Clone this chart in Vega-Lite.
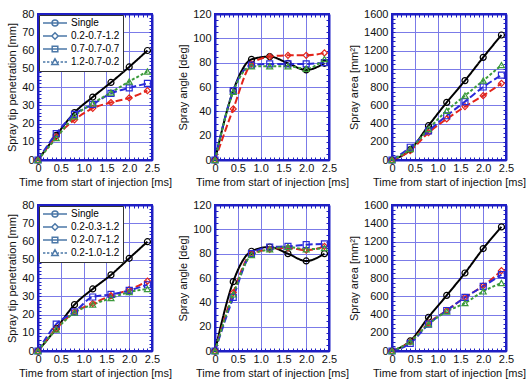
{
"$schema":"https://vega.github.io/schema/vega-lite/v6.json",
"padding":{"left":5,"top":7,"right":5,"bottom":5},
"background":"#ffffff",
"data":{"values":[
{"p":1,"s":"Single","t":0,"v":0},{"p":1,"s":"Single","t":0.4,"v":13.5},{"p":1,"s":"Single","t":0.8,"v":26},{"p":1,"s":"Single","t":1.2,"v":34.5},{"p":1,"s":"Single","t":1.6,"v":42.5},{"p":1,"s":"Single","t":2.0,"v":51},{"p":1,"s":"Single","t":2.4,"v":60},
{"p":1,"s":"0.2-0.7-1.2","t":0,"v":0},{"p":1,"s":"0.2-0.7-1.2","t":0.4,"v":12.8},{"p":1,"s":"0.2-0.7-1.2","t":0.8,"v":22},{"p":1,"s":"0.2-0.7-1.2","t":1.2,"v":28.3},{"p":1,"s":"0.2-0.7-1.2","t":1.6,"v":31.5},{"p":1,"s":"0.2-0.7-1.2","t":2.0,"v":34},{"p":1,"s":"0.2-0.7-1.2","t":2.4,"v":38},
{"p":1,"s":"0.7-0.7-0.7","t":0,"v":0},{"p":1,"s":"0.7-0.7-0.7","t":0.4,"v":14.5},{"p":1,"s":"0.7-0.7-0.7","t":0.8,"v":25},{"p":1,"s":"0.7-0.7-0.7","t":1.2,"v":30.5},{"p":1,"s":"0.7-0.7-0.7","t":1.6,"v":36.5},{"p":1,"s":"0.7-0.7-0.7","t":2.0,"v":39.5},{"p":1,"s":"0.7-0.7-0.7","t":2.4,"v":42},
{"p":1,"s":"1.2-0.7-0.2","t":0,"v":0},{"p":1,"s":"1.2-0.7-0.2","t":0.4,"v":12},{"p":1,"s":"1.2-0.7-0.2","t":0.8,"v":24},{"p":1,"s":"1.2-0.7-0.2","t":1.2,"v":31},{"p":1,"s":"1.2-0.7-0.2","t":1.6,"v":37},{"p":1,"s":"1.2-0.7-0.2","t":2.0,"v":43},{"p":1,"s":"1.2-0.7-0.2","t":2.4,"v":48.5},
{"p":2,"s":"Single","t":0,"v":0},{"p":2,"s":"Single","t":0.4,"v":57},{"p":2,"s":"Single","t":0.8,"v":82.7},{"p":2,"s":"Single","t":1.2,"v":85},{"p":2,"s":"Single","t":1.6,"v":79.5},{"p":2,"s":"Single","t":2.0,"v":74},{"p":2,"s":"Single","t":2.4,"v":79.5},
{"p":2,"s":"0.2-0.7-1.2","t":0,"v":0},{"p":2,"s":"0.2-0.7-1.2","t":0.4,"v":42},{"p":2,"s":"0.2-0.7-1.2","t":0.8,"v":79},{"p":2,"s":"0.2-0.7-1.2","t":1.2,"v":85},{"p":2,"s":"0.2-0.7-1.2","t":1.6,"v":86},{"p":2,"s":"0.2-0.7-1.2","t":2.0,"v":86},{"p":2,"s":"0.2-0.7-1.2","t":2.4,"v":88},
{"p":2,"s":"0.7-0.7-0.7","t":0,"v":0},{"p":2,"s":"0.7-0.7-0.7","t":0.4,"v":57},{"p":2,"s":"0.7-0.7-0.7","t":0.8,"v":78},{"p":2,"s":"0.7-0.7-0.7","t":1.2,"v":79},{"p":2,"s":"0.7-0.7-0.7","t":1.6,"v":79},{"p":2,"s":"0.7-0.7-0.7","t":2.0,"v":79},{"p":2,"s":"0.7-0.7-0.7","t":2.4,"v":80},
{"p":2,"s":"1.2-0.7-0.2","t":0,"v":0},{"p":2,"s":"1.2-0.7-0.2","t":0.4,"v":56},{"p":2,"s":"1.2-0.7-0.2","t":0.8,"v":77},{"p":2,"s":"1.2-0.7-0.2","t":1.2,"v":77},{"p":2,"s":"1.2-0.7-0.2","t":1.6,"v":77},{"p":2,"s":"1.2-0.7-0.2","t":2.0,"v":75},{"p":2,"s":"1.2-0.7-0.2","t":2.4,"v":83},
{"p":3,"s":"Single","t":0,"v":0},{"p":3,"s":"Single","t":0.4,"v":113},{"p":3,"s":"Single","t":0.8,"v":376},{"p":3,"s":"Single","t":1.2,"v":632},{"p":3,"s":"Single","t":1.6,"v":870},{"p":3,"s":"Single","t":2.0,"v":1125},{"p":3,"s":"Single","t":2.4,"v":1370},
{"p":3,"s":"0.2-0.7-1.2","t":0,"v":0},{"p":3,"s":"0.2-0.7-1.2","t":0.4,"v":102},{"p":3,"s":"0.2-0.7-1.2","t":0.8,"v":300},{"p":3,"s":"0.2-0.7-1.2","t":1.2,"v":450},{"p":3,"s":"0.2-0.7-1.2","t":1.6,"v":585},{"p":3,"s":"0.2-0.7-1.2","t":2.0,"v":705},{"p":3,"s":"0.2-0.7-1.2","t":2.4,"v":840},
{"p":3,"s":"0.7-0.7-0.7","t":0,"v":0},{"p":3,"s":"0.7-0.7-0.7","t":0.4,"v":140},{"p":3,"s":"0.7-0.7-0.7","t":0.8,"v":320},{"p":3,"s":"0.7-0.7-0.7","t":1.2,"v":485},{"p":3,"s":"0.7-0.7-0.7","t":1.6,"v":640},{"p":3,"s":"0.7-0.7-0.7","t":2.0,"v":800},{"p":3,"s":"0.7-0.7-0.7","t":2.4,"v":930},
{"p":3,"s":"1.2-0.7-0.2","t":0,"v":0},{"p":3,"s":"1.2-0.7-0.2","t":0.4,"v":120},{"p":3,"s":"1.2-0.7-0.2","t":0.8,"v":340},{"p":3,"s":"1.2-0.7-0.2","t":1.2,"v":540},{"p":3,"s":"1.2-0.7-0.2","t":1.6,"v":705},{"p":3,"s":"1.2-0.7-0.2","t":2.0,"v":870},{"p":3,"s":"1.2-0.7-0.2","t":2.4,"v":1040},
{"p":4,"s":"Single","t":0,"v":0},{"p":4,"s":"Single","t":0.4,"v":12.3},{"p":4,"s":"Single","t":0.8,"v":25.4},{"p":4,"s":"Single","t":1.2,"v":34},{"p":4,"s":"Single","t":1.6,"v":41.7},{"p":4,"s":"Single","t":2.0,"v":50.8},{"p":4,"s":"Single","t":2.4,"v":59.9},
{"p":4,"s":"0.2-0.3-1.2","t":0,"v":0},{"p":4,"s":"0.2-0.3-1.2","t":0.4,"v":12.2},{"p":4,"s":"0.2-0.3-1.2","t":0.8,"v":21.4},{"p":4,"s":"0.2-0.3-1.2","t":1.2,"v":26},{"p":4,"s":"0.2-0.3-1.2","t":1.6,"v":30.3},{"p":4,"s":"0.2-0.3-1.2","t":2.0,"v":33.6},{"p":4,"s":"0.2-0.3-1.2","t":2.4,"v":38.3},
{"p":4,"s":"0.2-0.7-1.2","t":0,"v":0},{"p":4,"s":"0.2-0.7-1.2","t":0.4,"v":14.7},{"p":4,"s":"0.2-0.7-1.2","t":0.8,"v":21.4},{"p":4,"s":"0.2-0.7-1.2","t":1.2,"v":29.6},{"p":4,"s":"0.2-0.7-1.2","t":1.6,"v":31},{"p":4,"s":"0.2-0.7-1.2","t":2.0,"v":33.2},{"p":4,"s":"0.2-0.7-1.2","t":2.4,"v":36.3},
{"p":4,"s":"0.2-1.0-1.2","t":0,"v":0},{"p":4,"s":"0.2-1.0-1.2","t":0.4,"v":11.8},{"p":4,"s":"0.2-1.0-1.2","t":0.8,"v":21},{"p":4,"s":"0.2-1.0-1.2","t":1.2,"v":25.4},{"p":4,"s":"0.2-1.0-1.2","t":1.6,"v":29},{"p":4,"s":"0.2-1.0-1.2","t":2.0,"v":32.3},{"p":4,"s":"0.2-1.0-1.2","t":2.4,"v":34},
{"p":5,"s":"Single","t":0,"v":0},{"p":5,"s":"Single","t":0.4,"v":57},{"p":5,"s":"Single","t":0.8,"v":82},{"p":5,"s":"Single","t":1.2,"v":85.5},{"p":5,"s":"Single","t":1.6,"v":80},{"p":5,"s":"Single","t":2.0,"v":74},{"p":5,"s":"Single","t":2.4,"v":80},
{"p":5,"s":"0.2-0.3-1.2","t":0,"v":0},{"p":5,"s":"0.2-0.3-1.2","t":0.4,"v":48},{"p":5,"s":"0.2-0.3-1.2","t":0.8,"v":80},{"p":5,"s":"0.2-0.3-1.2","t":1.2,"v":83.6},{"p":5,"s":"0.2-0.3-1.2","t":1.6,"v":84.7},{"p":5,"s":"0.2-0.3-1.2","t":2.0,"v":82.8},{"p":5,"s":"0.2-0.3-1.2","t":2.4,"v":86},
{"p":5,"s":"0.2-0.7-1.2","t":0,"v":0},{"p":5,"s":"0.2-0.7-1.2","t":0.4,"v":44},{"p":5,"s":"0.2-0.7-1.2","t":0.8,"v":80},{"p":5,"s":"0.2-0.7-1.2","t":1.2,"v":85.5},{"p":5,"s":"0.2-0.7-1.2","t":1.6,"v":86},{"p":5,"s":"0.2-0.7-1.2","t":2.0,"v":87.4},{"p":5,"s":"0.2-0.7-1.2","t":2.4,"v":88},
{"p":5,"s":"0.2-1.0-1.2","t":0,"v":0},{"p":5,"s":"0.2-1.0-1.2","t":0.4,"v":46.5},{"p":5,"s":"0.2-1.0-1.2","t":0.8,"v":78.8},{"p":5,"s":"0.2-1.0-1.2","t":1.2,"v":83.6},{"p":5,"s":"0.2-1.0-1.2","t":1.6,"v":85.5},{"p":5,"s":"0.2-1.0-1.2","t":2.0,"v":83.6},{"p":5,"s":"0.2-1.0-1.2","t":2.4,"v":84.7},
{"p":6,"s":"Single","t":0,"v":0},{"p":6,"s":"Single","t":0.4,"v":110},{"p":6,"s":"Single","t":0.8,"v":370},{"p":6,"s":"Single","t":1.2,"v":610},{"p":6,"s":"Single","t":1.6,"v":855},{"p":6,"s":"Single","t":2.0,"v":1123},{"p":6,"s":"Single","t":2.4,"v":1360},
{"p":6,"s":"0.2-0.3-1.2","t":0,"v":0},{"p":6,"s":"0.2-0.3-1.2","t":0.4,"v":103},{"p":6,"s":"0.2-0.3-1.2","t":0.8,"v":305},{"p":6,"s":"0.2-0.3-1.2","t":1.2,"v":444},{"p":6,"s":"0.2-0.3-1.2","t":1.6,"v":587},{"p":6,"s":"0.2-0.3-1.2","t":2.0,"v":715},{"p":6,"s":"0.2-0.3-1.2","t":2.4,"v":880},
{"p":6,"s":"0.2-0.7-1.2","t":0,"v":0},{"p":6,"s":"0.2-0.7-1.2","t":0.4,"v":84},{"p":6,"s":"0.2-0.7-1.2","t":0.8,"v":294},{"p":6,"s":"0.2-0.7-1.2","t":1.2,"v":444},{"p":6,"s":"0.2-0.7-1.2","t":1.6,"v":587},{"p":6,"s":"0.2-0.7-1.2","t":2.0,"v":708},{"p":6,"s":"0.2-0.7-1.2","t":2.4,"v":837},
{"p":6,"s":"0.2-1.0-1.2","t":0,"v":0},{"p":6,"s":"0.2-1.0-1.2","t":0.4,"v":103},{"p":6,"s":"0.2-1.0-1.2","t":0.8,"v":294},{"p":6,"s":"0.2-1.0-1.2","t":1.2,"v":433},{"p":6,"s":"0.2-1.0-1.2","t":1.6,"v":525},{"p":6,"s":"0.2-1.0-1.2","t":2.0,"v":653},{"p":6,"s":"0.2-1.0-1.2","t":2.4,"v":745}
]},
"columns":3,
"bounds":"flush",
"spacing":{"row":45,"column":63},
"resolve":{"scale":{"x":"independent","y":"independent","color":"independent","shape":"independent","strokeDash":"independent"},"axis":{"x":"independent","y":"independent"},"legend":{"shape":"independent","color":"independent","strokeDash":"independent"}},
"concat":[
{"width":114,"height":146,"transform":[{"filter":"datum.p==1"}],"layer":[
 {"mark":{"type":"line","interpolate":"monotone","strokeWidth":2},"encoding":{
  "x":{"field":"t","type":"quantitative","scale":{"domain":[0,2.5],"nice":false},"axis":{"orient":"bottom","values":[0,0.1,0.2,0.3,0.4,0.5,0.6,0.7,0.8,0.9,1,1.1,1.2,1.3,1.4,1.5,1.6,1.7,1.8,1.9,2,2.1,2.2,2.3,2.4,2.5],"grid":true,"gridOpacity":{"condition":{"test":"abs(datum.value*2-round(datum.value*2))<0.001","value":1},"value":0},"labelExpr":"abs(datum.value*2-round(datum.value*2))<0.001 ? (datum.value==0 ? '0' : format(datum.value,'.1f')) : ''","title":"Time from start of injection [ms]"}},
  "y":{"field":"v","type":"quantitative","scale":{"domain":[0,80],"nice":false},"axis":{"orient":"left","values":[0,2,4,6,8,10,12,14,16,18,20,22,24,26,28,30,32,34,36,38,40,42,44,46,48,50,52,54,56,58,60,62,64,66,68,70,72,74,76,78,80],"grid":true,"gridOpacity":{"condition":{"test":"datum.value%10==0","value":1},"value":0},"labelExpr":"datum.value%10==0 ? format(datum.value,'d') : ''","title":"Spray tip penetration [mm]"}},
  "color":{"field":"s","type":"nominal","scale":{"domain":["0.2-0.7-1.2","0.7-0.7-0.7","1.2-0.7-0.2","Single"],"range":["#e3241b","#2a2ad8","#3c9a3c","#000000"]},"legend":null},
  "strokeDash":{"field":"s","type":"nominal","scale":{"domain":["0.2-0.7-1.2","0.7-0.7-0.7","1.2-0.7-0.2","Single"],"range":[[7,3],[7,3],[3,2],[1,0]]},"legend":null}}},
 {"transform":[{"filter":"false"}],"mark":{"type":"point","filled":false,"size":64,"strokeWidth":1.5,"opacity":1},"encoding":{
  "x":{"field":"t","type":"quantitative","axis":null},"y":{"field":"v","type":"quantitative","axis":null},
  "shape":{"field":"s","type":"nominal","scale":{"domain":["Single","0.2-0.7-1.2","0.7-0.7-0.7","1.2-0.7-0.2"],"range":["M-3,0H3M-0.75,0A0.75,0.75,0,1,1,0.75,0A0.75,0.75,0,1,1,-0.75,0","M-3,0H-0.8M0.8,0H3M0,-0.8L0.8,0L0,0.8L-0.8,0Z","M-3,0H-0.7M0.7,0H3M-0.7,-0.7H0.7V0.7H-0.7ZM-0.7,0H0.7","M-3,0H-2.4M-2,0H-1.4M-1,0H-0.7M0.7,0H1M1.4,0H2M2.4,0H3M0,-0.8L0.8,0.6H-0.8Z"]},
   "legend":{"orient":"top-left","offset":1,"title":null,"padding":3,"rowPadding":0,"strokeColor":"#333333","fillColor":"#ffffff","symbolSize":64,"symbolStrokeWidth":1.5,"symbolOffset":8,"labelOffset":11,"labelFontSize":10,"labelFont":"Liberation Sans","encode":{"symbols":{"opacity":{"value":1},"stroke":{"value":{"expr":"['#000000','#e3241b','#2a2ad8','#3c9a3c'][indexof(['Single','0.2-0.7-1.2','0.7-0.7-0.7','1.2-0.7-0.2'],datum.value)]"}},"fill":{"value":"transparent"}},"labels":{"fill":{"value":{"expr":"['#000000','#e3241b','#2a2ad8','#3c9a3c'][indexof(['Single','0.2-0.7-1.2','0.7-0.7-0.7','1.2-0.7-0.2'],datum.value)]"}}}}}}}},
 {"transform":[{"filter":{"field":"s","equal":"Single"}}],"mark":{"type":"point","shape":"circle","filled":false,"size":36,"strokeWidth":1.2,"opacity":1},"encoding":{"x":{"field":"t","type":"quantitative","axis":null},"y":{"field":"v","type":"quantitative","axis":null},"color":{"field":"s","type":"nominal","legend":null}}},
 {"transform":[{"filter":{"field":"s","equal":"0.2-0.7-1.2"}}],"mark":{"type":"point","shape":"diamond","filled":false,"size":36,"strokeWidth":1.2,"opacity":1},"encoding":{"x":{"field":"t","type":"quantitative","axis":null},"y":{"field":"v","type":"quantitative","axis":null},"color":{"field":"s","type":"nominal","legend":null}}},
 {"transform":[{"filter":{"field":"s","equal":"0.7-0.7-0.7"}}],"mark":{"type":"point","shape":"square","filled":false,"size":36,"strokeWidth":1.2,"opacity":1},"encoding":{"x":{"field":"t","type":"quantitative","axis":null},"y":{"field":"v","type":"quantitative","axis":null},"color":{"field":"s","type":"nominal","legend":null}}},
 {"transform":[{"filter":{"field":"s","equal":"1.2-0.7-0.2"}}],"mark":{"type":"point","shape":"triangle-up","filled":false,"size":36,"strokeWidth":1.2,"opacity":1},"encoding":{
  "x":{"field":"t","type":"quantitative","axis":{"orient":"top","values":[0,0.1,0.2,0.3,0.4,0.5,0.6,0.7,0.8,0.9,1,1.1,1.2,1.3,1.4,1.5,1.6,1.7,1.8,1.9,2,2.1,2.2,2.3,2.4,2.5],"labels":false,"grid":false,"title":null}},
  "y":{"field":"v","type":"quantitative","axis":{"orient":"right","values":[0,2,4,6,8,10,12,14,16,18,20,22,24,26,28,30,32,34,36,38,40,42,44,46,48,50,52,54,56,58,60,62,64,66,68,70,72,74,76,78,80],"labels":false,"grid":false,"title":null}},
  "color":{"field":"s","type":"nominal","legend":null}}}
]},
{"width":114,"height":146,"transform":[{"filter":"datum.p==2"}],"layer":[
 {"mark":{"type":"line","interpolate":"monotone","strokeWidth":2},"encoding":{
  "x":{"field":"t","type":"quantitative","scale":{"domain":[0,2.5],"nice":false},"axis":{"orient":"bottom","values":[0,0.1,0.2,0.3,0.4,0.5,0.6,0.7,0.8,0.9,1,1.1,1.2,1.3,1.4,1.5,1.6,1.7,1.8,1.9,2,2.1,2.2,2.3,2.4,2.5],"grid":true,"gridOpacity":{"condition":{"test":"abs(datum.value*2-round(datum.value*2))<0.001","value":1},"value":0},"labelExpr":"abs(datum.value*2-round(datum.value*2))<0.001 ? (datum.value==0 ? '0' : format(datum.value,'.1f')) : ''","title":"Time from start of injection [ms]"}},
  "y":{"field":"v","type":"quantitative","scale":{"domain":[0,120],"nice":false},"axis":{"orient":"left","values":[0,5,10,15,20,25,30,35,40,45,50,55,60,65,70,75,80,85,90,95,100,105,110,115,120],"grid":true,"gridOpacity":{"condition":{"test":"datum.value%20==0","value":1},"value":0},"labelExpr":"datum.value%20==0 ? format(datum.value,'d') : ''","title":"Spray angle [deg]"}},
  "color":{"field":"s","type":"nominal","scale":{"domain":["0.2-0.7-1.2","0.7-0.7-0.7","1.2-0.7-0.2","Single"],"range":["#e3241b","#2a2ad8","#3c9a3c","#000000"]},"legend":null},
  "strokeDash":{"field":"s","type":"nominal","scale":{"domain":["0.2-0.7-1.2","0.7-0.7-0.7","1.2-0.7-0.2","Single"],"range":[[7,3],[7,3],[3,2],[1,0]]},"legend":null}}},
 {"transform":[{"filter":{"field":"s","equal":"Single"}}],"mark":{"type":"point","shape":"circle","filled":false,"size":36,"strokeWidth":1.2,"opacity":1},"encoding":{"x":{"field":"t","type":"quantitative","axis":null},"y":{"field":"v","type":"quantitative","axis":null},"color":{"field":"s","type":"nominal","legend":null}}},
 {"transform":[{"filter":{"field":"s","equal":"0.2-0.7-1.2"}}],"mark":{"type":"point","shape":"diamond","filled":false,"size":36,"strokeWidth":1.2,"opacity":1},"encoding":{"x":{"field":"t","type":"quantitative","axis":null},"y":{"field":"v","type":"quantitative","axis":null},"color":{"field":"s","type":"nominal","legend":null}}},
 {"transform":[{"filter":{"field":"s","equal":"0.7-0.7-0.7"}}],"mark":{"type":"point","shape":"square","filled":false,"size":36,"strokeWidth":1.2,"opacity":1},"encoding":{"x":{"field":"t","type":"quantitative","axis":null},"y":{"field":"v","type":"quantitative","axis":null},"color":{"field":"s","type":"nominal","legend":null}}},
 {"transform":[{"filter":{"field":"s","equal":"1.2-0.7-0.2"}}],"mark":{"type":"point","shape":"triangle-up","filled":false,"size":36,"strokeWidth":1.2,"opacity":1},"encoding":{
  "x":{"field":"t","type":"quantitative","axis":{"orient":"top","values":[0,0.1,0.2,0.3,0.4,0.5,0.6,0.7,0.8,0.9,1,1.1,1.2,1.3,1.4,1.5,1.6,1.7,1.8,1.9,2,2.1,2.2,2.3,2.4,2.5],"labels":false,"grid":false,"title":null}},
  "y":{"field":"v","type":"quantitative","axis":{"orient":"right","values":[0,5,10,15,20,25,30,35,40,45,50,55,60,65,70,75,80,85,90,95,100,105,110,115,120],"labels":false,"grid":false,"title":null}},
  "color":{"field":"s","type":"nominal","legend":null}}}
]},
{"width":114,"height":146,"transform":[{"filter":"datum.p==3"}],"layer":[
 {"mark":{"type":"line","interpolate":"monotone","strokeWidth":2},"encoding":{
  "x":{"field":"t","type":"quantitative","scale":{"domain":[0,2.5],"nice":false},"axis":{"orient":"bottom","values":[0,0.1,0.2,0.3,0.4,0.5,0.6,0.7,0.8,0.9,1,1.1,1.2,1.3,1.4,1.5,1.6,1.7,1.8,1.9,2,2.1,2.2,2.3,2.4,2.5],"grid":true,"gridOpacity":{"condition":{"test":"abs(datum.value*2-round(datum.value*2))<0.001","value":1},"value":0},"labelExpr":"abs(datum.value*2-round(datum.value*2))<0.001 ? (datum.value==0 ? '0' : format(datum.value,'.1f')) : ''","title":"Time from start of injection [ms]"}},
  "y":{"field":"v","type":"quantitative","scale":{"domain":[0,1600],"nice":false},"axis":{"orient":"left","values":[0,50,100,150,200,250,300,350,400,450,500,550,600,650,700,750,800,850,900,950,1000,1050,1100,1150,1200,1250,1300,1350,1400,1450,1500,1550,1600],"grid":true,"gridOpacity":{"condition":{"test":"datum.value%200==0","value":1},"value":0},"labelExpr":"datum.value%200==0 ? format(datum.value,'d') : ''","title":"Spray area [mm²]"}},
  "color":{"field":"s","type":"nominal","scale":{"domain":["0.2-0.7-1.2","0.7-0.7-0.7","1.2-0.7-0.2","Single"],"range":["#e3241b","#2a2ad8","#3c9a3c","#000000"]},"legend":null},
  "strokeDash":{"field":"s","type":"nominal","scale":{"domain":["0.2-0.7-1.2","0.7-0.7-0.7","1.2-0.7-0.2","Single"],"range":[[7,3],[7,3],[3,2],[1,0]]},"legend":null}}},
 {"transform":[{"filter":{"field":"s","equal":"Single"}}],"mark":{"type":"point","shape":"circle","filled":false,"size":36,"strokeWidth":1.2,"opacity":1},"encoding":{"x":{"field":"t","type":"quantitative","axis":null},"y":{"field":"v","type":"quantitative","axis":null},"color":{"field":"s","type":"nominal","legend":null}}},
 {"transform":[{"filter":{"field":"s","equal":"0.2-0.7-1.2"}}],"mark":{"type":"point","shape":"diamond","filled":false,"size":36,"strokeWidth":1.2,"opacity":1},"encoding":{"x":{"field":"t","type":"quantitative","axis":null},"y":{"field":"v","type":"quantitative","axis":null},"color":{"field":"s","type":"nominal","legend":null}}},
 {"transform":[{"filter":{"field":"s","equal":"0.7-0.7-0.7"}}],"mark":{"type":"point","shape":"square","filled":false,"size":36,"strokeWidth":1.2,"opacity":1},"encoding":{"x":{"field":"t","type":"quantitative","axis":null},"y":{"field":"v","type":"quantitative","axis":null},"color":{"field":"s","type":"nominal","legend":null}}},
 {"transform":[{"filter":{"field":"s","equal":"1.2-0.7-0.2"}}],"mark":{"type":"point","shape":"triangle-up","filled":false,"size":36,"strokeWidth":1.2,"opacity":1},"encoding":{
  "x":{"field":"t","type":"quantitative","axis":{"orient":"top","values":[0,0.1,0.2,0.3,0.4,0.5,0.6,0.7,0.8,0.9,1,1.1,1.2,1.3,1.4,1.5,1.6,1.7,1.8,1.9,2,2.1,2.2,2.3,2.4,2.5],"labels":false,"grid":false,"title":null}},
  "y":{"field":"v","type":"quantitative","axis":{"orient":"right","values":[0,50,100,150,200,250,300,350,400,450,500,550,600,650,700,750,800,850,900,950,1000,1050,1100,1150,1200,1250,1300,1350,1400,1450,1500,1550,1600],"labels":false,"grid":false,"title":null}},
  "color":{"field":"s","type":"nominal","legend":null}}}
]},
{"width":114,"height":146,"transform":[{"filter":"datum.p==4"}],"layer":[
 {"mark":{"type":"line","interpolate":"monotone","strokeWidth":2},"encoding":{
  "x":{"field":"t","type":"quantitative","scale":{"domain":[0,2.5],"nice":false},"axis":{"orient":"bottom","values":[0,0.1,0.2,0.3,0.4,0.5,0.6,0.7,0.8,0.9,1,1.1,1.2,1.3,1.4,1.5,1.6,1.7,1.8,1.9,2,2.1,2.2,2.3,2.4,2.5],"grid":true,"gridOpacity":{"condition":{"test":"abs(datum.value*2-round(datum.value*2))<0.001","value":1},"value":0},"labelExpr":"abs(datum.value*2-round(datum.value*2))<0.001 ? (datum.value==0 ? '0' : format(datum.value,'.1f')) : ''","title":"Time from start of injection [ms]"}},
  "y":{"field":"v","type":"quantitative","scale":{"domain":[0,80],"nice":false},"axis":{"orient":"left","values":[0,2,4,6,8,10,12,14,16,18,20,22,24,26,28,30,32,34,36,38,40,42,44,46,48,50,52,54,56,58,60,62,64,66,68,70,72,74,76,78,80],"grid":true,"gridOpacity":{"condition":{"test":"datum.value%10==0","value":1},"value":0},"labelExpr":"datum.value%10==0 ? format(datum.value,'d') : ''","title":"Spray tip penetration [mm]"}},
  "color":{"field":"s","type":"nominal","scale":{"domain":["0.2-0.3-1.2","0.2-0.7-1.2","0.2-1.0-1.2","Single"],"range":["#e3241b","#2a2ad8","#3c9a3c","#000000"]},"legend":null},
  "strokeDash":{"field":"s","type":"nominal","scale":{"domain":["0.2-0.3-1.2","0.2-0.7-1.2","0.2-1.0-1.2","Single"],"range":[[7,3],[7,3],[3,2],[1,0]]},"legend":null}}},
 {"transform":[{"filter":"false"}],"mark":{"type":"point","filled":false,"size":64,"strokeWidth":1.5,"opacity":1},"encoding":{
  "x":{"field":"t","type":"quantitative","axis":null},"y":{"field":"v","type":"quantitative","axis":null},
  "shape":{"field":"s","type":"nominal","scale":{"domain":["Single","0.2-0.3-1.2","0.2-0.7-1.2","0.2-1.0-1.2"],"range":["M-3,0H3M-0.75,0A0.75,0.75,0,1,1,0.75,0A0.75,0.75,0,1,1,-0.75,0","M-3,0H-0.8M0.8,0H3M0,-0.8L0.8,0L0,0.8L-0.8,0Z","M-3,0H-0.7M0.7,0H3M-0.7,-0.7H0.7V0.7H-0.7ZM-0.7,0H0.7","M-3,0H-2.4M-2,0H-1.4M-1,0H-0.7M0.7,0H1M1.4,0H2M2.4,0H3M0,-0.8L0.8,0.6H-0.8Z"]},
   "legend":{"orient":"top-left","offset":1,"title":null,"padding":3,"rowPadding":0,"strokeColor":"#333333","fillColor":"#ffffff","symbolSize":64,"symbolStrokeWidth":1.5,"symbolOffset":8,"labelOffset":11,"labelFontSize":10,"labelFont":"Liberation Sans","encode":{"symbols":{"opacity":{"value":1},"stroke":{"value":{"expr":"['#000000','#e3241b','#2a2ad8','#3c9a3c'][indexof(['Single','0.2-0.3-1.2','0.2-0.7-1.2','0.2-1.0-1.2'],datum.value)]"}},"fill":{"value":"transparent"}},"labels":{"fill":{"value":{"expr":"['#000000','#e3241b','#2a2ad8','#3c9a3c'][indexof(['Single','0.2-0.3-1.2','0.2-0.7-1.2','0.2-1.0-1.2'],datum.value)]"}}}}}}}},
 {"transform":[{"filter":{"field":"s","equal":"Single"}}],"mark":{"type":"point","shape":"circle","filled":false,"size":36,"strokeWidth":1.2,"opacity":1},"encoding":{"x":{"field":"t","type":"quantitative","axis":null},"y":{"field":"v","type":"quantitative","axis":null},"color":{"field":"s","type":"nominal","legend":null}}},
 {"transform":[{"filter":{"field":"s","equal":"0.2-0.3-1.2"}}],"mark":{"type":"point","shape":"diamond","filled":false,"size":36,"strokeWidth":1.2,"opacity":1},"encoding":{"x":{"field":"t","type":"quantitative","axis":null},"y":{"field":"v","type":"quantitative","axis":null},"color":{"field":"s","type":"nominal","legend":null}}},
 {"transform":[{"filter":{"field":"s","equal":"0.2-0.7-1.2"}}],"mark":{"type":"point","shape":"square","filled":false,"size":36,"strokeWidth":1.2,"opacity":1},"encoding":{"x":{"field":"t","type":"quantitative","axis":null},"y":{"field":"v","type":"quantitative","axis":null},"color":{"field":"s","type":"nominal","legend":null}}},
 {"transform":[{"filter":{"field":"s","equal":"0.2-1.0-1.2"}}],"mark":{"type":"point","shape":"triangle-up","filled":false,"size":36,"strokeWidth":1.2,"opacity":1},"encoding":{
  "x":{"field":"t","type":"quantitative","axis":{"orient":"top","values":[0,0.1,0.2,0.3,0.4,0.5,0.6,0.7,0.8,0.9,1,1.1,1.2,1.3,1.4,1.5,1.6,1.7,1.8,1.9,2,2.1,2.2,2.3,2.4,2.5],"labels":false,"grid":false,"title":null}},
  "y":{"field":"v","type":"quantitative","axis":{"orient":"right","values":[0,2,4,6,8,10,12,14,16,18,20,22,24,26,28,30,32,34,36,38,40,42,44,46,48,50,52,54,56,58,60,62,64,66,68,70,72,74,76,78,80],"labels":false,"grid":false,"title":null}},
  "color":{"field":"s","type":"nominal","legend":null}}}
]},
{"width":114,"height":146,"transform":[{"filter":"datum.p==5"}],"layer":[
 {"mark":{"type":"line","interpolate":"monotone","strokeWidth":2},"encoding":{
  "x":{"field":"t","type":"quantitative","scale":{"domain":[0,2.5],"nice":false},"axis":{"orient":"bottom","values":[0,0.1,0.2,0.3,0.4,0.5,0.6,0.7,0.8,0.9,1,1.1,1.2,1.3,1.4,1.5,1.6,1.7,1.8,1.9,2,2.1,2.2,2.3,2.4,2.5],"grid":true,"gridOpacity":{"condition":{"test":"abs(datum.value*2-round(datum.value*2))<0.001","value":1},"value":0},"labelExpr":"abs(datum.value*2-round(datum.value*2))<0.001 ? (datum.value==0 ? '0' : format(datum.value,'.1f')) : ''","title":"Time from start of injection [ms]"}},
  "y":{"field":"v","type":"quantitative","scale":{"domain":[0,120],"nice":false},"axis":{"orient":"left","values":[0,5,10,15,20,25,30,35,40,45,50,55,60,65,70,75,80,85,90,95,100,105,110,115,120],"grid":true,"gridOpacity":{"condition":{"test":"datum.value%20==0","value":1},"value":0},"labelExpr":"datum.value%20==0 ? format(datum.value,'d') : ''","title":"Spray angle [deg]"}},
  "color":{"field":"s","type":"nominal","scale":{"domain":["0.2-0.3-1.2","0.2-0.7-1.2","0.2-1.0-1.2","Single"],"range":["#e3241b","#2a2ad8","#3c9a3c","#000000"]},"legend":null},
  "strokeDash":{"field":"s","type":"nominal","scale":{"domain":["0.2-0.3-1.2","0.2-0.7-1.2","0.2-1.0-1.2","Single"],"range":[[7,3],[7,3],[3,2],[1,0]]},"legend":null}}},
 {"transform":[{"filter":{"field":"s","equal":"Single"}}],"mark":{"type":"point","shape":"circle","filled":false,"size":36,"strokeWidth":1.2,"opacity":1},"encoding":{"x":{"field":"t","type":"quantitative","axis":null},"y":{"field":"v","type":"quantitative","axis":null},"color":{"field":"s","type":"nominal","legend":null}}},
 {"transform":[{"filter":{"field":"s","equal":"0.2-0.3-1.2"}}],"mark":{"type":"point","shape":"diamond","filled":false,"size":36,"strokeWidth":1.2,"opacity":1},"encoding":{"x":{"field":"t","type":"quantitative","axis":null},"y":{"field":"v","type":"quantitative","axis":null},"color":{"field":"s","type":"nominal","legend":null}}},
 {"transform":[{"filter":{"field":"s","equal":"0.2-0.7-1.2"}}],"mark":{"type":"point","shape":"square","filled":false,"size":36,"strokeWidth":1.2,"opacity":1},"encoding":{"x":{"field":"t","type":"quantitative","axis":null},"y":{"field":"v","type":"quantitative","axis":null},"color":{"field":"s","type":"nominal","legend":null}}},
 {"transform":[{"filter":{"field":"s","equal":"0.2-1.0-1.2"}}],"mark":{"type":"point","shape":"triangle-up","filled":false,"size":36,"strokeWidth":1.2,"opacity":1},"encoding":{
  "x":{"field":"t","type":"quantitative","axis":{"orient":"top","values":[0,0.1,0.2,0.3,0.4,0.5,0.6,0.7,0.8,0.9,1,1.1,1.2,1.3,1.4,1.5,1.6,1.7,1.8,1.9,2,2.1,2.2,2.3,2.4,2.5],"labels":false,"grid":false,"title":null}},
  "y":{"field":"v","type":"quantitative","axis":{"orient":"right","values":[0,5,10,15,20,25,30,35,40,45,50,55,60,65,70,75,80,85,90,95,100,105,110,115,120],"labels":false,"grid":false,"title":null}},
  "color":{"field":"s","type":"nominal","legend":null}}}
]},
{"width":114,"height":146,"transform":[{"filter":"datum.p==6"}],"layer":[
 {"mark":{"type":"line","interpolate":"monotone","strokeWidth":2},"encoding":{
  "x":{"field":"t","type":"quantitative","scale":{"domain":[0,2.5],"nice":false},"axis":{"orient":"bottom","values":[0,0.1,0.2,0.3,0.4,0.5,0.6,0.7,0.8,0.9,1,1.1,1.2,1.3,1.4,1.5,1.6,1.7,1.8,1.9,2,2.1,2.2,2.3,2.4,2.5],"grid":true,"gridOpacity":{"condition":{"test":"abs(datum.value*2-round(datum.value*2))<0.001","value":1},"value":0},"labelExpr":"abs(datum.value*2-round(datum.value*2))<0.001 ? (datum.value==0 ? '0' : format(datum.value,'.1f')) : ''","title":"Time from start of injection [ms]"}},
  "y":{"field":"v","type":"quantitative","scale":{"domain":[0,1600],"nice":false},"axis":{"orient":"left","values":[0,50,100,150,200,250,300,350,400,450,500,550,600,650,700,750,800,850,900,950,1000,1050,1100,1150,1200,1250,1300,1350,1400,1450,1500,1550,1600],"grid":true,"gridOpacity":{"condition":{"test":"datum.value%200==0","value":1},"value":0},"labelExpr":"datum.value%200==0 ? format(datum.value,'d') : ''","title":"Spray area [mm²]"}},
  "color":{"field":"s","type":"nominal","scale":{"domain":["0.2-0.3-1.2","0.2-0.7-1.2","0.2-1.0-1.2","Single"],"range":["#e3241b","#2a2ad8","#3c9a3c","#000000"]},"legend":null},
  "strokeDash":{"field":"s","type":"nominal","scale":{"domain":["0.2-0.3-1.2","0.2-0.7-1.2","0.2-1.0-1.2","Single"],"range":[[7,3],[7,3],[3,2],[1,0]]},"legend":null}}},
 {"transform":[{"filter":{"field":"s","equal":"Single"}}],"mark":{"type":"point","shape":"circle","filled":false,"size":36,"strokeWidth":1.2,"opacity":1},"encoding":{"x":{"field":"t","type":"quantitative","axis":null},"y":{"field":"v","type":"quantitative","axis":null},"color":{"field":"s","type":"nominal","legend":null}}},
 {"transform":[{"filter":{"field":"s","equal":"0.2-0.3-1.2"}}],"mark":{"type":"point","shape":"diamond","filled":false,"size":36,"strokeWidth":1.2,"opacity":1},"encoding":{"x":{"field":"t","type":"quantitative","axis":null},"y":{"field":"v","type":"quantitative","axis":null},"color":{"field":"s","type":"nominal","legend":null}}},
 {"transform":[{"filter":{"field":"s","equal":"0.2-0.7-1.2"}}],"mark":{"type":"point","shape":"square","filled":false,"size":36,"strokeWidth":1.2,"opacity":1},"encoding":{"x":{"field":"t","type":"quantitative","axis":null},"y":{"field":"v","type":"quantitative","axis":null},"color":{"field":"s","type":"nominal","legend":null}}},
 {"transform":[{"filter":{"field":"s","equal":"0.2-1.0-1.2"}}],"mark":{"type":"point","shape":"triangle-up","filled":false,"size":36,"strokeWidth":1.2,"opacity":1},"encoding":{
  "x":{"field":"t","type":"quantitative","axis":{"orient":"top","values":[0,0.1,0.2,0.3,0.4,0.5,0.6,0.7,0.8,0.9,1,1.1,1.2,1.3,1.4,1.5,1.6,1.7,1.8,1.9,2,2.1,2.2,2.3,2.4,2.5],"labels":false,"grid":false,"title":null}},
  "y":{"field":"v","type":"quantitative","axis":{"orient":"right","values":[0,50,100,150,200,250,300,350,400,450,500,550,600,650,700,750,800,850,900,950,1000,1050,1100,1150,1200,1250,1300,1350,1400,1450,1500,1550,1600],"labels":false,"grid":false,"title":null}},
  "color":{"field":"s","type":"nominal","legend":null}}}
]}
],
"config":{
 "font":"Liberation Sans",
 "view":{"stroke":"#1f1fc4","strokeWidth":2},
 "axis":{"domainColor":"#1f1fc4","domainWidth":2,"tickColor":"#1f1fc4","tickWidth":1,"tickSize":-3,"gridColor":"#7b7be8","gridWidth":1,"labelFont":"Liberation Sans","labelFontSize":11,"labelColor":"#111111","titleFont":"Liberation Sans","titleFontSize":11,"titleFontWeight":"normal","titleColor":"#111111","labelOverlap":false,"labelFlush":false,"labelBound":false},
 "axisBottom":{"labelPadding":5,"titlePadding":3},
 "axisLeft":{"labelPadding":7,"titlePadding":4}
}
}
